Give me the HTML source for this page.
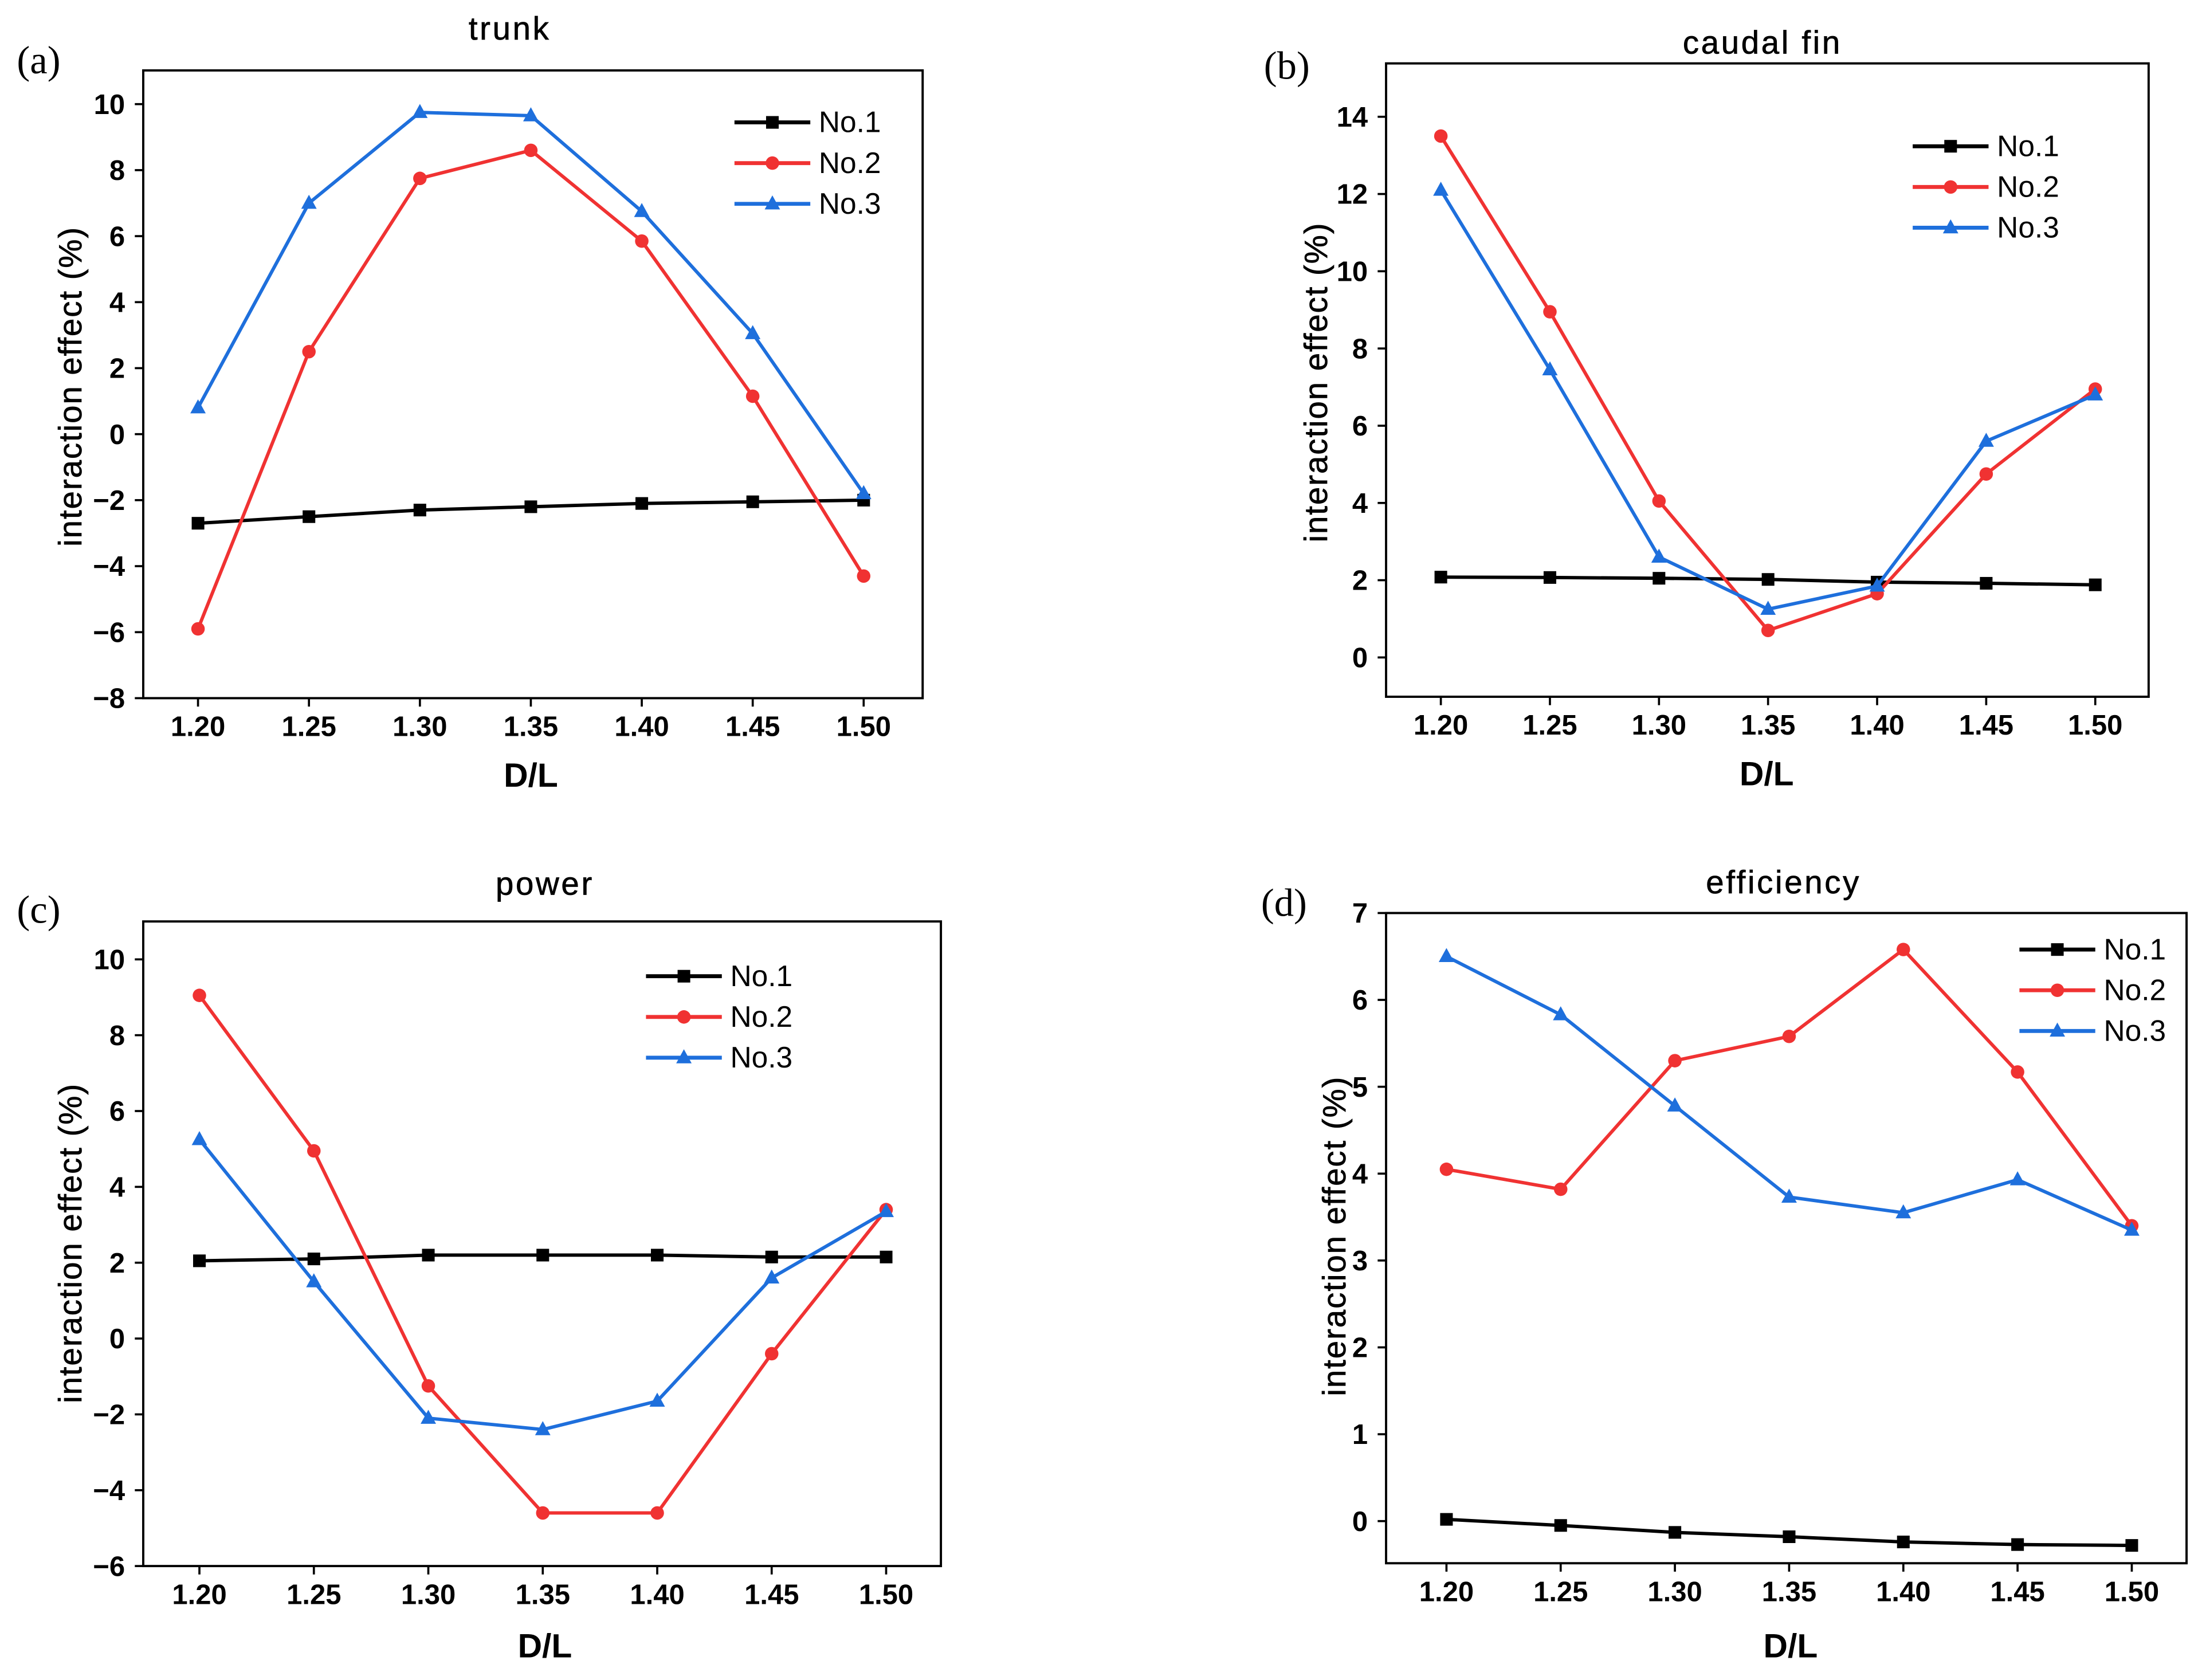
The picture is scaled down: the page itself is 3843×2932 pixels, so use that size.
<!DOCTYPE html>
<html><head><meta charset="utf-8"><style>
html,body{margin:0;padding:0;background:#fff;}
svg{display:block;font-family:"Liberation Sans",Arial,sans-serif;}
</style></head><body>
<svg id="fig" width="3843" height="2932" viewBox="0 0 1568 1196" xmlns="http://www.w3.org/2000/svg"></svg>
<script>
const categories = [1.20,1.25,1.30,1.35,1.40,1.45,1.50];
const xTickLabels = ["1.20","1.25","1.30","1.35","1.40","1.45","1.50"];
const seriesNames = ["No.1","No.2","No.3"];
const trunkNo1 = [-2.7,-2.5,-2.3,-2.2,-2.1,-2.05,-2.0];
const trunkNo2 = [-5.9,2.5,7.75,8.6,5.85,1.15,-4.3];
const trunkNo3 = [0.8,7.0,9.75,9.65,6.75,3.05,-1.8];
const caudalNo1 = [2.08,2.07,2.05,2.02,1.95,1.92,1.88];
const caudalNo2 = [13.5,8.95,4.05,0.7,1.65,4.75,6.95];
const caudalNo3 = [12.1,7.45,2.6,1.25,1.85,5.6,6.8];
const powerNo1 = [2.05,2.1,2.2,2.2,2.2,2.15,2.15];
const powerNo2 = [9.05,4.95,-1.25,-4.6,-4.6,-0.4,3.4];
const powerNo3 = [5.25,1.5,-2.1,-2.4,-1.65,1.6,3.35];
const effNo1 = [0.02,-0.05,-0.13,-0.18,-0.24,-0.27,-0.28];
const effNo2 = [4.05,3.82,5.3,5.58,6.58,5.17,3.4];
const effNo3 = [6.5,5.83,4.78,3.73,3.55,3.93,3.35];
const trunkTicks = [10,8,6,4,2,0,-2,-4,-6,-8];
const caudalTicks = [14,12,10,8,6,4,2,0];
const powerTicks = [10,8,6,4,2,0,-2,-4,-6];
const effTicks = [7,6,5,4,3,2,1,0];

const NS="http://www.w3.org/2000/svg";
const svg=document.getElementById('fig');
function mk(tag,attrs,parent){const e=document.createElementNS(NS,tag);for(const k in attrs)e.setAttribute(k,attrs[k]);(parent||svg).appendChild(e);return e;}
const colors=["#000000","#f03232","#1e6fdc"];

const panels=[
 {key:'a',title:'trunk',data:[trunkNo1,trunkNo2,trunkNo3],ticks:trunkTicks,
  box:[102,50,657,497],x0:141,x1:615,yA:10,pyA:74,yB:-8,pyB:497,
  titlePos:[363,28],labPos:[12,52],leg:[523,87],xl:[378,560],yl:[50,275]},
 {key:'b',title:'caudal fin',data:[caudalNo1,caudalNo2,caudalNo3],ticks:caudalTicks,
  box:[987,45,1530,496],x0:1026,x1:1492,yA:14,pyA:83,yB:0,pyB:468,
  titlePos:[1255,38],labPos:[900,56],leg:[1362,104],xl:[1258,559],yl:[937,272]},
 {key:'c',title:'power',data:[powerNo1,powerNo2,powerNo3],ticks:powerTicks,
  box:[102,656,670,1115],x0:142,x1:631,yA:10,pyA:683,yB:-6,pyB:1115,
  titlePos:[388,637],labPos:[12,657],leg:[460,695],xl:[388,1180],yl:[50,885]},
 {key:'d',title:'efficiency',data:[effNo1,effNo2,effNo3],ticks:effTicks,
  box:[987,650,1557,1113],x0:1030,x1:1518,yA:7,pyA:650,yB:0,pyB:1083,
  titlePos:[1270,636],labPos:[898,652],leg:[1438,676],xl:[1275,1180],yl:[950,880]}
];

panels.forEach(p=>{
 const g=mk('g',{});
 
 
 const xs=v=>p.x0+(v-categories[0])/(categories[categories.length-1]-categories[0])*(p.x1-p.x0);
 const ys=v=>p.pyB+(v-p.yB)/(p.yA-p.yB)*(p.pyA-p.pyB);
 const [l,t,r,b]=p.box;
 const fr=mk('rect',{x:l,y:t,width:r-l,height:b-t,fill:'none',stroke:'#000','stroke-width':1.6},g);
 
 
 categories.forEach((c,i)=>{
  const x=xs(c);
  mk('line',{x1:x,y1:b,x2:x,y2:b+6,stroke:'#000','stroke-width':1.5},g);
  const tl=mk('text',{x:x,y:b+27,'text-anchor':'middle','font-size':20,'font-weight':'bold'},g);
  tl.textContent=xTickLabels[i];
  
  
 });
 p.ticks.forEach(v=>{
  const y=ys(v);
  mk('line',{x1:l-6,y1:y,x2:l,y2:y,stroke:'#000','stroke-width':1.5},g);
  const tl=mk('text',{x:l-13,y:y+7,'text-anchor':'end','font-size':20,'font-weight':'bold'},g);
  tl.textContent=(v<0?'\u2212':'')+Math.abs(v);
  
  
 });
 const tt=mk('text',{x:p.titlePos[0],y:p.titlePos[1],'text-anchor':'middle','font-size':23,'letter-spacing':1.5,stroke:'#000','stroke-width':0.3},g);
 tt.textContent=p.title;
 
 
 const lb=mk('text',{x:p.labPos[0],y:p.labPos[1],'font-size':28,'font-family':'"Liberation Serif",serif'},g);
 lb.textContent='('+p.key+')';
 
 
 const xt=mk('text',{x:p.xl[0],y:p.xl[1],'text-anchor':'middle','font-size':24,'font-weight':'bold'},g);
 xt.textContent='D/L';
 
 
 const yt=mk('text',{x:0,y:0,'text-anchor':'middle','font-size':23,'letter-spacing':0.8,stroke:'#000','stroke-width':0.3,transform:`translate(${p.yl[0]+8},${p.yl[1]}) rotate(-90)`},g);
 yt.textContent='interaction effect  (%)';
 
 
 p.data.forEach((s,si)=>{
  const col=colors[si];
  const sg=mk('g',{},g);
  
  
  const pts=s.map((v,i)=>xs(categories[i])+','+ys(v)).join(' ');
  mk('polyline',{points:pts,fill:'none',stroke:col,'stroke-width':2.4},sg);
  s.forEach((v,i)=>{
   const x=xs(categories[i]),y=ys(v);
   let m;
   if(si===0)m=mk('rect',{x:x-4.5,y:y-4.5,width:9,height:9,fill:col},sg);
   else if(si===1)m=mk('circle',{cx:x,cy:y,r:4.8,fill:col},sg);
   else m=mk('polygon',{points:`${x},${y-6} ${x-5.5},${y+4} ${x+5.5},${y+4}`,fill:col},sg);
   
   
  });
  const ly=p.leg[1]+si*29, lx=p.leg[0];
  const le=mk('g',{},g);
  
  
  mk('line',{x1:lx,y1:ly,x2:lx+54,y2:ly,stroke:col,'stroke-width':2.8},le);
  if(si===0)mk('rect',{x:lx+22.5,y:ly-4.5,width:9,height:9,fill:col},le);
  else if(si===1)mk('circle',{cx:lx+27,cy:ly,r:4.8,fill:col},le);
  else mk('polygon',{points:`${lx+27},${ly-6} ${lx+21.5},${ly+4} ${lx+32.5},${ly+4}`,fill:col},le);
  const lt=mk('text',{x:lx+60,y:ly+7,'font-size':21},le);
  lt.textContent=seriesNames[si];
 });
});
</script>
</body></html>
